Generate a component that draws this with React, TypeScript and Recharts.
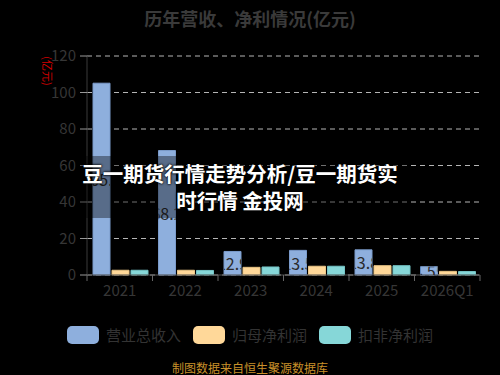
import React from 'react';
import { BarChart, Bar, XAxis, YAxis, CartesianGrid, LabelList } from 'recharts';

const categories = ['2021', '2022', '2023', '2024', '2025', '2026Q1'];
const revenue = [105.1, 68.2, 12.9, 13.5, 13.8, 4.55];
const netProfit = [2.6, 2.6, 4.2, 4.8, 5.1, 2.0];
const deductedProfit = [2.6, 2.5, 4.4, 4.8, 5.1, 1.9];
const yTicks = [0, 20, 40, 60, 80, 100, 120];
const seriesNames = ['营业总收入', '归母净利润', '扣非净利润'];
const seriesColors = ['#8eafdd', '#ffd899', '#86d7d8'];
const seriesStrokes = ['#7b9bcb', '#e8c485', '#74c3c4'];

const data = categories.map((c, i) => ({
  name: c,
  revenue: revenue[i],
  netProfit: netProfit[i],
  deductedProfit: deductedProfit[i],
}));

const FONT = '"Noto Sans CJK SC", "Noto Sans", sans-serif';
const W = 500;
const H = 375;
const M = { top: 56, right: 20, bottom: 70, left: 0 };
const X_H = 30;
const Y_W = 87;
const BAND = (W - M.left - M.right - Y_W) / categories.length;

const XTick = (props: any) => {
  const { x, y, payload, index } = props;
  const isLast = index === categories.length - 1;
  return (
    <g>
      <line x1={x - BAND / 2} x2={x - BAND / 2} y1={y - 8} y2={y - 2} stroke="#666" />
      {isLast && <line x1={x + BAND / 2} x2={x + BAND / 2} y1={y - 8} y2={y - 2} stroke="#666" />}
      <text x={x} y={y + 13} textAnchor="middle" fill="#363636" fontSize={15} fontFamily={FONT}>
        {payload.value}
      </text>
    </g>
  );
};

const RevLabel = (props: any) => {
  const { x, y, width, height, value, index } = props;
  const id = `clip-rev-${index}`;
  return (
    <g>
      <defs>
        <clipPath id={id}>
          <rect x={x} y={y} width={width} height={height} />
        </clipPath>
      </defs>
      <text
        x={x + width / 2}
        y={y + height / 2}
        textAnchor="middle"
        dominantBaseline="central"
        fill="#2a2a2a"
        fontSize={16}
        fontFamily={FONT}
        clipPath={`url(#${id})`}
      >
        {value}
      </text>
    </g>
  );
};

export default function App() {
  return (
    <div style={{ position: 'absolute', left: 0, top: 0, width: W, height: H, background: '#000', overflow: 'hidden' }}>
      <div
        style={{
          position: 'absolute', top: 5, left: 0, width: W, textAlign: 'center',
          fontFamily: FONT, fontSize: 18, fontWeight: 'bold', color: '#3a3a3a',
        }}
      >
        历年营收、净利情况(亿元)
      </div>
      <BarChart width={W} height={H} data={data} margin={M} barCategoryGap={6} barGap={2}>
        <CartesianGrid vertical={false} stroke="#b5b5b5" strokeDasharray="5 4" />
        <XAxis
          dataKey="name"
          height={X_H}
          axisLine={{ stroke: '#555' }}
          tickLine={false}
          tick={<XTick />}
          interval={0}
        />
        <YAxis
          width={Y_W}
          domain={[0, 120]}
          ticks={yTicks}
          axisLine={{ stroke: '#3a3a3a' }}
          tickLine={{ stroke: '#999' }}
          tickSize={7}
          tickMargin={4}
          tick={{ fill: '#363636', fontSize: 15, fontFamily: FONT }}
        />
        <Bar dataKey="revenue" name={seriesNames[0]} fill={seriesColors[0]} stroke={seriesStrokes[0]} isAnimationActive={false}>
          <LabelList dataKey="revenue" content={<RevLabel />} />
        </Bar>
        <Bar dataKey="netProfit" name={seriesNames[1]} fill={seriesColors[1]} stroke={seriesStrokes[1]} isAnimationActive={false} />
        <Bar dataKey="deductedProfit" name={seriesNames[2]} fill={seriesColors[2]} stroke={seriesStrokes[2]} isAnimationActive={false} />
      </BarChart>
      <div
        style={{
          position: 'absolute', top: 324, left: 0, width: W,
          display: 'flex', justifyContent: 'center', alignItems: 'center',
          fontFamily: FONT, fontSize: 15, color: '#333',
        }}
      >
        {seriesNames.map((n, i) => (
          <div key={n} style={{ display: 'flex', alignItems: 'center', marginRight: i < 2 ? 12 : 0 }}>
            <div style={{ width: 32, height: 18, borderRadius: 5, background: seriesColors[i], marginRight: 7 }} />
            <span>{n}</span>
          </div>
        ))}
      </div>
      <div
        style={{
          position: 'absolute', left: 33, top: 64, width: 30, height: 14,
          fontFamily: FONT, fontSize: 11, color: '#d40000', lineHeight: '14px',
          transform: 'rotate(90deg)', textAlign: 'center', whiteSpace: 'nowrap',
        }}
      >
        (亿元)
      </div>
      <div
        style={{
          position: 'absolute', left: 75, top: 156, width: 335, height: 62,
          background: 'rgba(0,0,0,0.38)',
        }}
      />
      <div
        style={{
          position: 'absolute', left: 40, top: 160, width: 400, textAlign: 'center',
          fontFamily: FONT, fontSize: 20.5, fontWeight: 'bold', color: '#fff', lineHeight: '27px',
          textShadow: '0 0 3px #000, 0 0 2px #000', whiteSpace: 'nowrap',
        }}
      >
        豆一期货行情走势分析/豆一期货实<br />时行情 金投网
      </div>
      <div
        style={{
          position: 'absolute', top: 359, left: 0, width: W, textAlign: 'center',
          fontFamily: FONT, fontSize: 12, color: '#c8902a',
        }}
      >
        制图数据来自恒生聚源数据库
      </div>
    </div>
  );
}
